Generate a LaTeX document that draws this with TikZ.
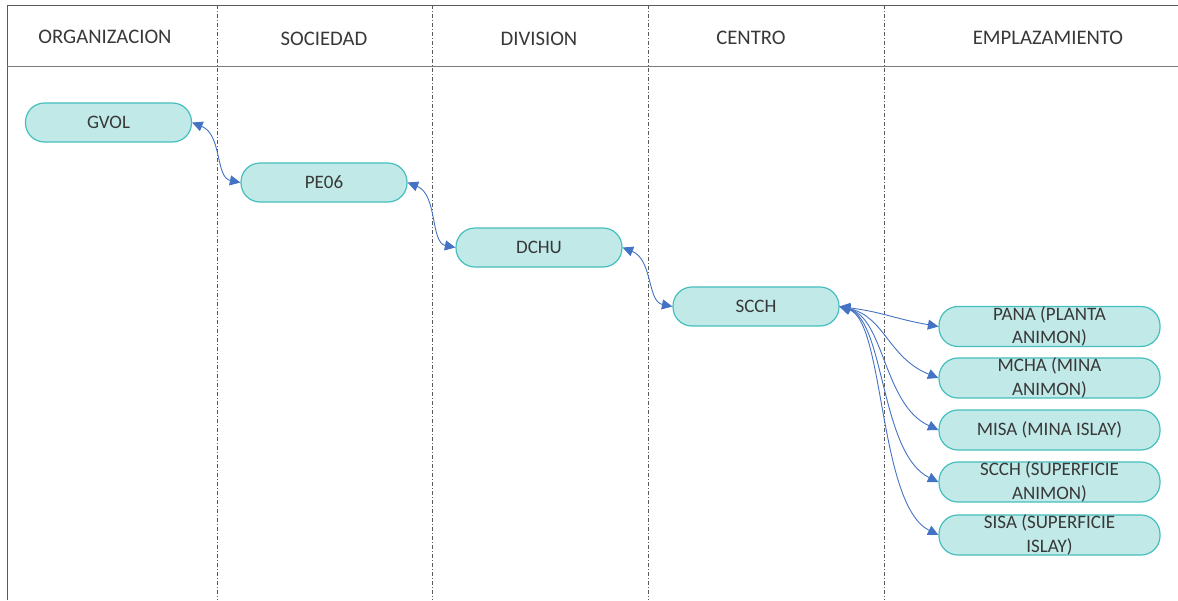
\documentclass[tikz,border=0pt]{standalone}
\usepackage{fontspec}
\setmainfont{Carlito}
\usetikzlibrary{arrows.meta}
\definecolor{txt}{HTML}{383838}
\definecolor{nfill}{HTML}{C0E9E8}
\definecolor{ndraw}{HTML}{45BFBD}
\definecolor{conn}{HTML}{4472C4}
\definecolor{frame}{HTML}{595959}
\begin{document}
\begin{tikzpicture}[x=1pt,y=-1pt,
  box/.style={draw=ndraw, fill=nfill, line width=1.2pt, rounded corners=19pt, minimum width=166pt, minimum height=39pt, inner sep=0pt, text=txt, font=\fontsize{19}{23.5}\selectfont, align=center},
  rbox/.style={box, minimum width=221pt, minimum height=40pt},
  head/.style={text=txt, font=\fontsize{20.7}{24}\selectfont, inner sep=0pt},
  link/.style={draw=conn, line width=0.9pt, {Triangle[length=10.5pt,width=10pt]}-{Triangle[length=10.5pt,width=10pt]}},
  sep/.style={draw=frame, line width=0.7pt, dash pattern=on 4pt off 2pt on 1pt off 2pt},
  rule/.style={draw=frame, line width=1pt}]
\useasboundingbox (0,0) rectangle (1178,600);
% frame
\draw[rule] (7,600) -- (7,5) -- (1178,5);
\draw[rule, draw=frame!80] (7,66) -- (1178,66);
\foreach \x in {217,432,648,884} \draw[sep] (\x,5) -- (\x,600);
% headers
\node[head] (h1) at (105,37) {ORGANIZACION};
\node[head] (h2) at (324,39) {SOCIEDAD};
\node[head] (h3) at (539,39) {DIVISION};
\node[head] (h4) at (751,38) {CENTRO};
\node[head] (h5) at (1048,38) {EMPLAZAMIENTO};
% nodes
\node[box] (GVOL) at (108.5,122.5) {GVOL};
\node[box] (PE06) at (324,182.5) {PE06};
\node[box] (DCHU) at (539,247.5) {DCHU};
\node[box] (SCCH) at (756,306.5) {SCCH};
\node[rbox] (PANA) at (1049.5,326.5) {PANA (PLANTA\\ANIMON)};
\node[rbox] (MCHA) at (1049.5,378) {MCHA (MINA\\ANIMON)};
\node[rbox] (MISA) at (1049.5,430) {MISA (MINA ISLAY)};
\node[rbox] (SCCHb) at (1049.5,482) {SCCH (SUPERFICIE\\ANIMON)};
\node[rbox] (SISA) at (1049.5,535) {SISA (SUPERFICIE\\ISLAY)};
% links
\draw[link] (GVOL.east) .. controls +(30,12) and +(-25,-5) .. (PE06.west);
\draw[link] (PE06.east) .. controls +(30,12) and +(-25,-5) .. (DCHU.west);
\draw[link] (DCHU.east) .. controls +(30,12) and +(-25,-5) .. (SCCH.west);
\draw[link] (SCCH.east) .. controls +(45,6) and +(-45,-8) .. (PANA.west);
\draw[link] (SCCH.east) .. controls +(45,10) and +(-50,-20) .. (MCHA.west);
\draw[link] (SCCH.east) .. controls +(45,12) and +(-55,-25) .. (MISA.west);
\draw[link] (SCCH.east) .. controls +(45,14) and +(-58,-28) .. (SCCHb.west);
\draw[link] (SCCH.east) .. controls +(45,15) and +(-60,-30) .. (SISA.west);
\end{tikzpicture}
\end{document}
